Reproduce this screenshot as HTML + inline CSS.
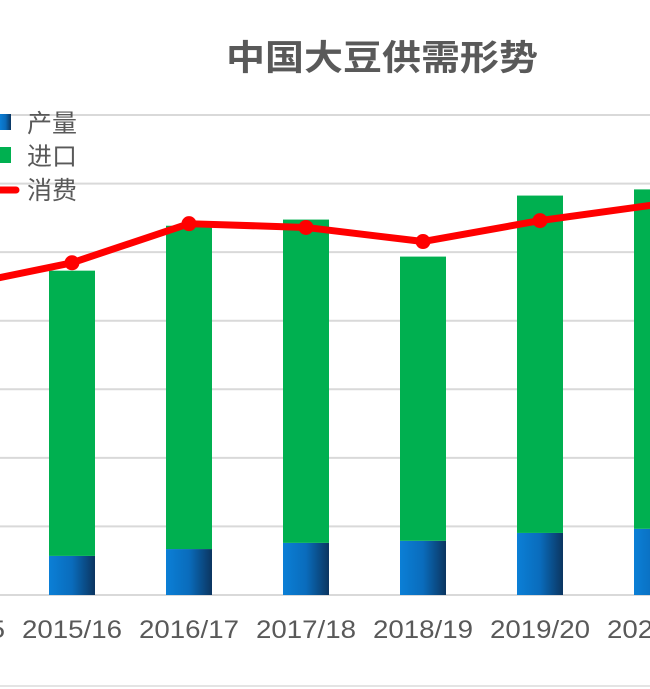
<!DOCTYPE html>
<html><head><meta charset="utf-8"><style>
html,body{margin:0;padding:0;background:#fff;}
svg{display:block;font-family:"Liberation Sans","Noto Sans CJK SC",sans-serif;}
</style></head><body>
<svg width="650" height="689" viewBox="0 0 650 689">
<defs>
<linearGradient id="blueGrad" x1="0" x2="1" y1="0" y2="0">
<stop offset="0" stop-color="#0b7fd6"/><stop offset="0.5" stop-color="#0a6cbc"/><stop offset="1" stop-color="#0b3560"/>
</linearGradient>
</defs>
<rect x="0" y="0" width="650" height="689" fill="#fff"/>
<line x1="0" y1="686" x2="650" y2="686" stroke="#e4e4e4" stroke-width="2"/>
<text x="382" y="70" text-anchor="middle" font-size="35" font-weight="bold" fill="#595959" textLength="312" lengthAdjust="spacingAndGlyphs">中国大豆供需形势</text>
<g id="grid"></g>
<g id="bars"></g>
<g id="line"></g>
<g id="xlabels"></g>
<g>
<rect x="0" y="114" width="11" height="16" fill="url(#blueGrad)"/>
<text x="27" y="132" font-size="25" fill="#595959">产量</text>
<rect x="0" y="147" width="11" height="16" fill="#00b050"/>
<text x="27" y="165" font-size="25" fill="#595959">进口</text>
<line x1="0" y1="190" x2="16" y2="190" stroke="#ff0000" stroke-width="7" stroke-linecap="round"/>
<text x="27" y="199" font-size="25" fill="#595959">消费</text>
</g>
</svg>
<script>
const categories=["2014/15","2015/16","2016/17","2017/18","2018/19","2019/20","2020/21"];
const production=[1215,1140,1340,1520,1580,1810,1930];
const imports=[7835,8320,9430,9430,8290,9840,9900];
const consumption=[8990,9690,10830,10720,10310,10920,11390];
const yTicks=[0,2000,4000,6000,8000,10000,12000,14000];
const NS="http://www.w3.org/2000/svg";
const y0=595, yTop=115, yMax=14000;
function yScale(v){return y0-(v/yMax)*(y0-yTop);}
const x0=-45, step=117;
function xScale(i){return x0+i*step;}
const bw=46;
function mk(tag,attrs,parent){const e=document.createElementNS(NS,tag);for(const k in attrs)e.setAttribute(k,attrs[k]);parent.appendChild(e);return e;}
const grid=document.getElementById('grid');
yTicks.forEach(t=>{const l=mk('line',{x1:0,x2:650,y1:yScale(t),y2:yScale(t),stroke:'#d9d9d9','stroke-width':2},grid);

});
const bars=document.getElementById('bars');
categories.forEach((c,i)=>{
const cx=xScale(i);
const p=mk('rect',{x:cx-bw/2,y:yScale(production[i]),width:bw,height:y0-yScale(production[i]),fill:'url(#blueGrad)'},bars);


const tot=production[i]+imports[i];
const g=mk('rect',{x:cx-bw/2,y:yScale(tot),width:bw,height:yScale(production[i])-yScale(tot),fill:'#00b050'},bars);


});
const lg=document.getElementById('line');
const pts=consumption.map((v,i)=>xScale(i)+','+yScale(v)).join(' ');
const pl=mk('polyline',{points:pts,fill:'none',stroke:'#ff0000','stroke-width':7,'stroke-linejoin':'round'},lg);


consumption.forEach((v,i)=>{const m=mk('circle',{cx:xScale(i),cy:yScale(v),r:7.5,fill:'#ff0000'},lg);

});
const xl=document.getElementById('xlabels');
categories.forEach((c,i)=>{const t=mk('text',{x:xScale(i)-50,y:638,'font-size':25,fill:'#595959',textLength:100,lengthAdjust:'spacingAndGlyphs'},xl);
t.textContent=c;

});
</script>
</body></html>
